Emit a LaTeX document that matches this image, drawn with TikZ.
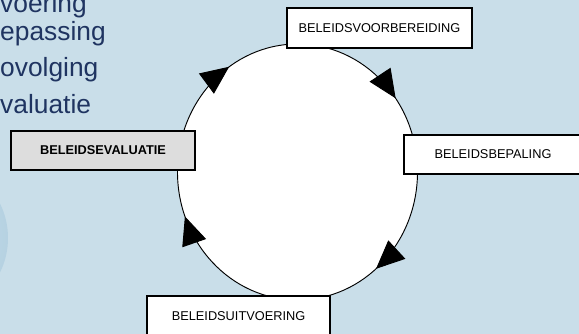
\documentclass[tikz,border=0pt]{standalone}
\usepackage{fontspec}
\setmainfont{Liberation Sans}
\usetikzlibrary{arrows.meta,decorations.markings}
\definecolor{slideblue}{RGB}{201,222,233}
\definecolor{rimblue}{RGB}{182,210,226}
\definecolor{titlenavy}{RGB}{31,52,97}
\definecolor{evalgray}{RGB}{221,221,221}
\tikzset{
  fase/.style={draw=black, fill=white, line width=0.9pt, inner sep=0pt,
    minimum height=1.2cm, font=\fontsize{10.9}{13}\selectfont},
  bullet/.style={anchor=base west, inner sep=0pt, text=titlenavy,
    font=\fontsize{22.5}{27}\selectfont},
}
\begin{document}
\begin{tikzpicture}[x=0.03cm, y=-0.03cm]
\useasboundingbox (0,0) rectangle (579,334);
\fill [slideblue] (0,0) rectangle (579,334);
\shade [inner color=slideblue, outer color=rimblue] (-70,238) circle [radius=2.34cm];

% tekst van de dia
\node [bullet] (r1) at (0,12) {voering};
\node [bullet] (r2) at (0,40) {epassing};
\node [bullet] (r3) at (0,76) {ovolging};
\node [bullet] (r4) at (0,113) {valuatie};

% beleidscyclus
\coordinate (mid) at (297.5,172);
\draw [fill=white, line width=0.8pt, postaction={decorate},
  decoration={markings,
    mark=at position 0.1 with {\arrowreversed{Triangle[length=0.85cm,width=0.75cm]}},
    mark=at position 0.344 with {\arrowreversed{Triangle[length=0.85cm,width=0.75cm]}},
    mark=at position 0.558 with {\arrowreversed{Triangle[length=0.85cm,width=0.75cm]}},
    mark=at position 0.861 with {\arrowreversed{Triangle[length=0.85cm,width=0.75cm]}}}]
  (mid) ellipse [x radius=3.6cm, y radius=3.84cm];

\node [fase, minimum width=5.55cm] (voorb) at (379.5,28) {BELEIDSVOORBEREIDING};
\node [fase, minimum width=5.34cm, minimum height=1.17cm] (bepal) at (493,154.5) {BELEIDSBEPALING};
\node [fase, fill=evalgray, minimum width=5.52cm, minimum height=1.17cm,
  font=\fontsize{10.9}{13}\selectfont\bfseries] (evalu) at (103,150.5) {BELEIDSEVALUATIE};
\node [fase, minimum width=5.49cm] (uitvo) at (238.5,316) {BELEIDSUITVOERING};
\end{tikzpicture}
\end{document}
